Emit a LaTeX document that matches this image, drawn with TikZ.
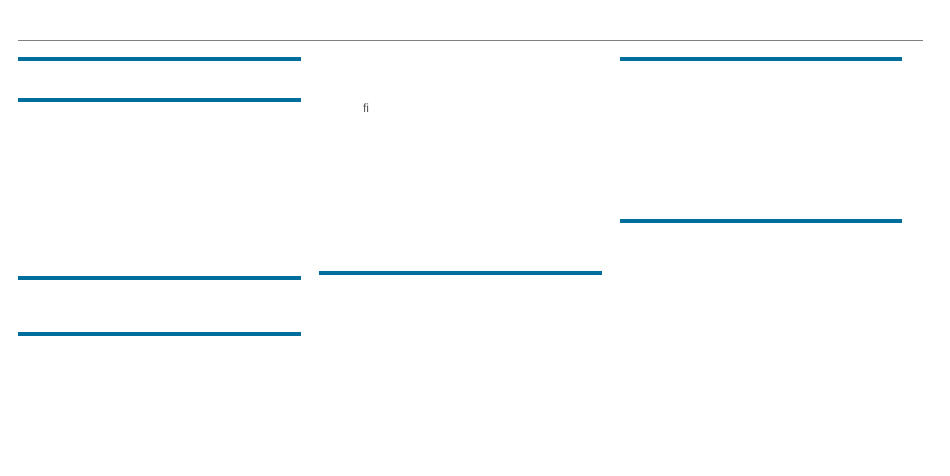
\documentclass[tikz,border=0pt]{standalone}
\usepackage{fontspec}
\setmainfont{Liberation Sans}
\definecolor{rule}{HTML}{006E9C}
\definecolor{thin}{HTML}{808080}
\definecolor{txt}{HTML}{555555}
\begin{document}
\begin{tikzpicture}[x=1pt,y=-1pt,
  bluerule/.style={draw=rule,line width=4pt},
  thinrule/.style={draw=thin,line width=1pt}]
\useasboundingbox (0,0) rectangle (950,475);
\coordinate (g1) at (18,40.5); \coordinate (g2) at (923,40.5);
\draw[thinrule] (g1) -- (g2);
\coordinate (a1) at (18,59); \coordinate (a2) at (301,59);
\coordinate (b1) at (18,100); \coordinate (b2) at (301,100);
\coordinate (c1) at (18,278); \coordinate (c2) at (301,278);
\coordinate (d1) at (18,334); \coordinate (d2) at (301,334);
\coordinate (e1) at (319,273); \coordinate (e2) at (602,273);
\coordinate (f1) at (620,59); \coordinate (f2) at (902,59);
\coordinate (h1) at (620,221); \coordinate (h2) at (902,221);
\foreach \p in {a,b,c,d,e,f,h}{\draw[bluerule] (\p1) -- (\p2);}
\node[text=txt,font=\fontsize{12}{14}\selectfont,inner sep=0pt] (fi) at (366,108.5) {fi};
\end{tikzpicture}
\end{document}
